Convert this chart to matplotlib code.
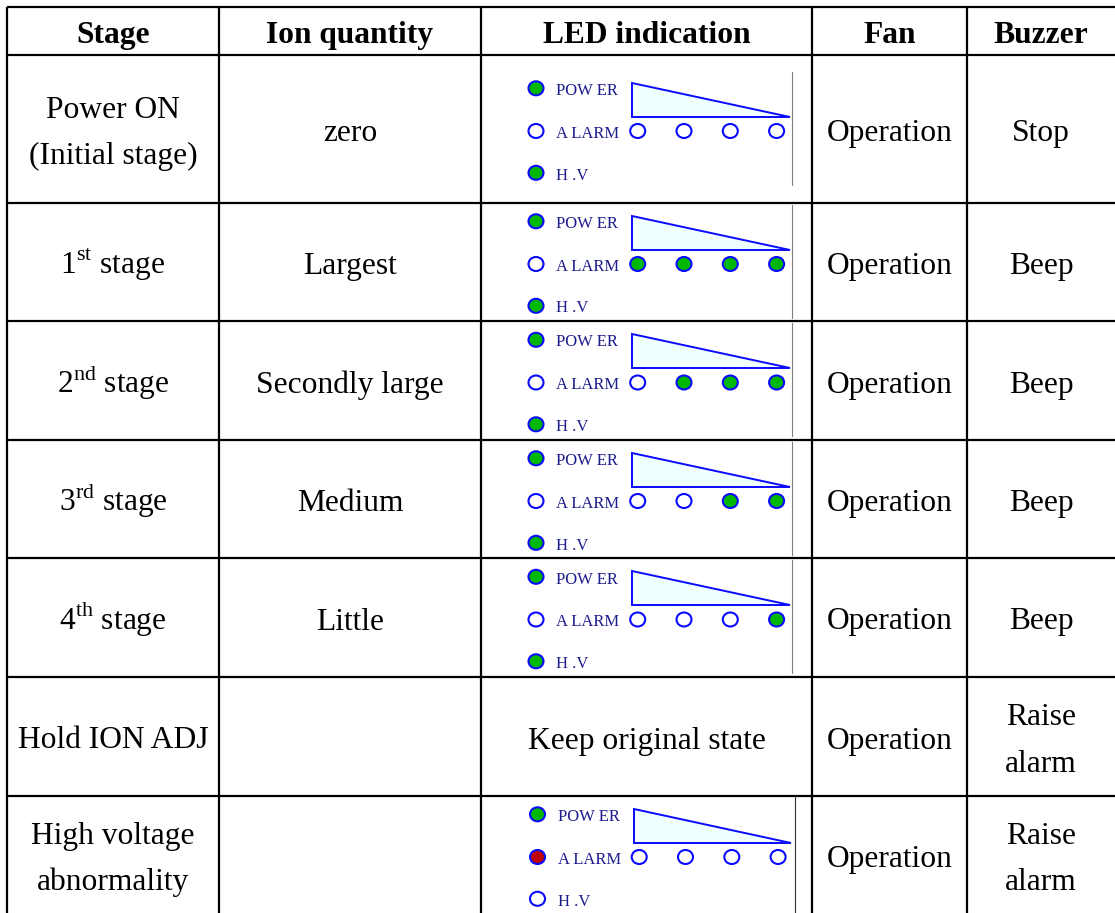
import matplotlib
matplotlib.use("Agg")
import matplotlib.pyplot as plt
from matplotlib.patches import Ellipse, Polygon

plt.rcParams['font.family'] = ['Liberation Serif', 'DejaVu Serif']
plt.rcParams['mathtext.fontset'] = 'custom'
plt.rcParams['mathtext.rm'] = 'Liberation Serif'

# table content
headers = ["Stage", "Ion quantity", "LED indication", "Fan", "Buzzer"]
stages = ["Power ON\n(Initial stage)", r"$\mathrm{1}^{\mathrm{st}}$ stage", r"$\mathrm{2}^{\mathrm{nd}}$ stage",
          r"$\mathrm{3}^{\mathrm{rd}}$ stage", r"$\mathrm{4}^{\mathrm{th}}$ stage", "Hold ION ADJ",
          "High voltage\nabnormality"]
ion_quantity = ["zero", "Largest", "Secondly large", "Medium", "Little", "", ""]
fan = ["Operation", "Operation", "Operation", "Operation", "Operation", "Operation", "Operation"]
buzzer = ["Stop", "Beep", "Beep", "Beep", "Beep", "Raise\nalarm", "Raise\nalarm"]
led_note = [None, None, None, None, None, "Keep original state", None]

# LED states: 'g' green, 'r' red, 'o' off
led_power = ['g', 'g', 'g', 'g', 'g', None, 'g']
led_alarm = ['o', 'o', 'o', 'o', 'o', None, 'r']
led_hv = ['g', 'g', 'g', 'g', 'g', None, 'o']
led_level = [['o', 'o', 'o', 'o'],
             ['g', 'g', 'g', 'g'],
             ['o', 'g', 'g', 'g'],
             ['o', 'o', 'g', 'g'],
             ['o', 'o', 'o', 'g'],
             None,
             ['o', 'o', 'o', 'o']]
led_labels = ["POW ER", "A LARM", "H .V"]

# layout (pixels)
col_edges = [7, 219, 481, 812, 967, 1115]
row_edges = [7, 55, 203, 321, 440, 558, 677, 796, 914]
W, H = 1115, 913
FS = 22.7
LINE_GAP = 46.7

fill_colors = {'g': '#00b800', 'r': '#c00000', 'o': 'white'}
led_blue = '#0a0aff'
label_color = '#1c1c8c'


def put_text(ax, x, yc, text, bold=False):
    lines = text.split("\n")
    base = yc + 12
    start = base - LINE_GAP * (len(lines) - 1) / 2
    for k, line in enumerate(lines):
        ax.text(x, start + k * LINE_GAP, line, ha='center', va='baseline', fontsize=FS,
                fontweight='bold' if bold else 'normal', color='black')


def draw_led(ax, i, yc, dx=0.0, last=False):
    p_y = yc - 40.7
    a_y = yc + 2.0
    h_y = yc + 43.8
    x0 = 536 + dx
    for y, state, label in zip([p_y, a_y, h_y], [led_power[i], led_alarm[i], led_hv[i]], led_labels):
        ax.add_patch(Ellipse((x0, y), 15, 14, facecolor=fill_colors[state], edgecolor=led_blue, lw=1.5))
        ax.text(x0 + 20.5, y + 6.7, label, ha='left', va='baseline', fontsize=12, color=label_color)
    # level wedge
    tri = Polygon([(632 + dx, p_y - 5.3), (632 + dx, a_y - 14), (789.5 + dx, a_y - 14)], closed=True,
                  facecolor='#f0ffff', edgecolor=led_blue, lw=1.4)
    ax.add_patch(tri)
    for j, state in enumerate(led_level[i]):
        ax.add_patch(Ellipse((637.7 + dx + j * 46.3, a_y), 15, 14, facecolor=fill_colors[state],
                             edgecolor=led_blue, lw=1.5))
    if last:
        ax.plot([795, 795], [row_edges[i + 1] + 0.5, H], color='#333333', lw=0.8)
    else:
        ax.plot([792.3, 792.3], [p_y - 16.5, h_y + 12], color='#808080', lw=0.8)


fig = plt.figure(figsize=(W / 100, H / 100), dpi=100)
ax = fig.add_axes([0, 0, 1, 1])
ax.set_xlim(0, W)
ax.set_ylim(H, 0)
ax.axis('off')

# grid
for y in row_edges[:-1]:
    ax.plot([col_edges[0], W], [y, y], color='black', lw=1.6, solid_capstyle='butt')
for x in col_edges[:-1]:
    ax.plot([x, x], [row_edges[0], H], color='black', lw=1.6, solid_capstyle='butt')

centers = [(col_edges[k] + col_edges[k + 1]) / 2 for k in range(5)]
for k, h in enumerate(headers):
    put_text(ax, centers[k], (row_edges[0] + row_edges[1]) / 2, h, bold=True)

for i in range(len(stages)):
    yc = (row_edges[i + 1] + row_edges[i + 2]) / 2
    put_text(ax, centers[0], yc, stages[i])
    if ion_quantity[i]:
        put_text(ax, centers[1], yc, ion_quantity[i])
    if led_note[i]:
        put_text(ax, centers[2], yc, led_note[i])
    else:
        last = i == len(stages) - 1
        draw_led(ax, i, yc, dx=1.5 if last else 0.0, last=last)
    put_text(ax, centers[3], yc, fan[i])
    put_text(ax, centers[4], yc, buzzer[i])

fig.savefig("out.png", dpi=100)
